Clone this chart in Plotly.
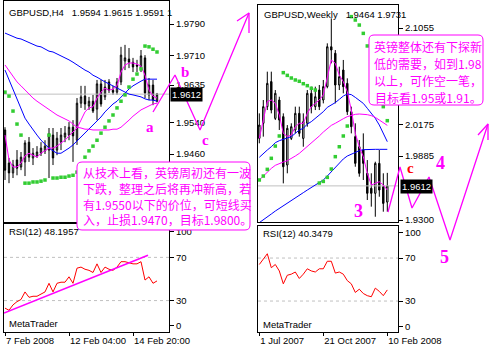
import plotly.graph_objects as go

# ---------------- GBPUSD H4 (left) ----------------
h4_index = list(range(39))
h4_open = [1.9521, 1.9437, 1.9412, 1.9445, 1.9427, 1.9440, 1.9490, 1.9450, 1.9455, 1.9462,
           1.9468, 1.9470, 1.9508, 1.9470, 1.9490, 1.9503, 1.9508, 1.9528, 1.9495, 1.9589,
           1.9607, 1.9582, 1.9594, 1.9574, 1.9638, 1.9605, 1.9643, 1.9622, 1.9617, 1.9643,
           1.9696, 1.9701, 1.9693, 1.9686, 1.9676, 1.9704, 1.9610, 1.9635, 1.9594]
h4_high = [1.9528, 1.9450, 1.9445, 1.9470, 1.9465, 1.9495, 1.9503, 1.9475, 1.9480, 1.9490,
           1.9495, 1.9526, 1.9526, 1.9516, 1.9526, 1.9531, 1.9541, 1.9546, 1.9602, 1.9633,
           1.9633, 1.9605, 1.9610, 1.9648, 1.9648, 1.9648, 1.9650, 1.9633, 1.9653, 1.9732,
           1.9737, 1.9729, 1.9704, 1.9699, 1.9724, 1.9711, 1.9653, 1.9648, 1.9615]
h4_low = [1.9394, 1.9386, 1.9399, 1.9406, 1.9419, 1.9404, 1.9440, 1.9432, 1.9450, 1.9455,
          1.9460, 1.9399, 1.9432, 1.9457, 1.9470, 1.9490, 1.9495, 1.9440, 1.9483, 1.9577,
          1.9572, 1.9572, 1.9564, 1.9546, 1.9580, 1.9597, 1.9615, 1.9610, 1.9610, 1.9635,
          1.9673, 1.9678, 1.9668, 1.9668, 1.9668, 1.9602, 1.9597, 1.9584, 1.9591]
h4_close = [1.9419, 1.9412, 1.9432, 1.9424, 1.9452, 1.9488, 1.9452, 1.9462, 1.9465, 1.9475,
            1.9480, 1.9511, 1.9450, 1.9500, 1.9508, 1.9513, 1.9528, 1.9506, 1.9589, 1.9605,
            1.9587, 1.9594, 1.9569, 1.9638, 1.9587, 1.9630, 1.9622, 1.9617, 1.9643, 1.9711,
            1.9704, 1.9693, 1.9681, 1.9683, 1.9709, 1.9615, 1.9635, 1.9597, 1.9612]
h4_ma_blue_slow = [1.9767, 1.9762, 1.9759, 1.9754, 1.9752, 1.9747, 1.9742, 1.9739, 1.9734, 1.9732,
                   1.9726, 1.9721, 1.9719, 1.9714, 1.9711, 1.9706, 1.9699, 1.9693, 1.9686, 1.9681,
                   1.9673, 1.9668, 1.9660, 1.9655, 1.9648, 1.9643, 1.9638, 1.9633, 1.9627, 1.9622,
                   1.9617, 1.9612, 1.9610, 1.9607, 1.9605, 1.9600, 1.9597, 1.9597, 1.9594]
h4_ma_blue_fast = [1.9673, 1.9648, 1.9622, 1.9597, 1.9572, 1.9551, 1.9536, 1.9521, 1.9508, 1.9495,
                   1.9485, 1.9475, 1.9468, 1.9462, 1.9462, 1.9468, 1.9475, 1.9483, 1.9493, 1.9503,
                   1.9513, 1.9523, 1.9533, 1.9544, 1.9554, 1.9567, 1.9577, 1.9587, 1.9594, 1.9605,
                   1.9615, 1.9625, 1.9633, 1.9640, 1.9645, 1.9650, 1.9650, 1.9650, 1.9650]
h4_ma_mag_slow = [1.9686, 1.9671, 1.9655, 1.9643, 1.9633, 1.9622, 1.9612, 1.9602, 1.9594, 1.9587,
                  1.9580, 1.9572, 1.9564, 1.9559, 1.9554, 1.9549, 1.9544, 1.9536, 1.9528, 1.9526,
                  1.9523, 1.9523, 1.9521, 1.9521, 1.9521, 1.9521, 1.9521, 1.9523, 1.9523, 1.9528,
                  1.9536, 1.9546, 1.9556, 1.9564, 1.9572, 1.9577, 1.9582, 1.9587, 1.9589]
h4_ma_mag_fast = [1.9508, 1.9445, 1.9427, 1.9427, 1.9437, 1.9455, 1.9462, 1.9457, 1.9452, 1.9462,
                  1.9468, 1.9475, 1.9475, 1.9480, 1.9488, 1.9495, 1.9506, 1.9516, 1.9526, 1.9546,
                  1.9567, 1.9577, 1.9580, 1.9602, 1.9617, 1.9627, 1.9622, 1.9625, 1.9633, 1.9668,
                  1.9686, 1.9691, 1.9691, 1.9688, 1.9683, 1.9660, 1.9622, 1.9607, 1.9602]
h4_sar = [1.9617, 1.9607, 1.9569, 1.9536, 1.9508, 1.9386, 1.9386, 1.9389, 1.9389, 1.9391,
          1.9394, 1.9508, 1.9399, 1.9399, 1.9401, 1.9401, 1.9404, 1.9406, 1.9414, 1.9435,
          1.9452, 1.9468, 1.9480, 1.9495, 1.9513, 1.9528, 1.9544, 1.9559, 1.9577, 1.9594,
          1.9610, 1.9630, 1.9650, 1.9663, 1.9676, 1.9734, 1.9732, 1.9726, 1.9719]
h4_rsi = [23, 21, 26, 29, 31, 38, 33, 34, 34, 36, 38, 46, 38, 46, 47, 47, 52, 46, 60, 61,
          59, 58, 56, 64, 56, 61, 59, 58, 61, 66, 66, 65, 64, 64, 66, 49, 52, 46, 48.1957]
h4_rsi_trend_x = [-0.25, 35.75]
h4_rsi_trend_y = [18.5, 72]
h4_date_ticks = [0, 16, 32]
h4_date_labels = ["7 Feb 2008", "12 Feb 04:00", "14 Feb 20:00"]
h4_price_ticks = [1.9790, 1.9710, 1.9635, 1.9540, 1.9460]
h4_last = 1.9612
h4_title = "GBPUSD,H4\u00a0\u00a0\u00a01.9594 1.9615 1.9591 1"

# ---------------- GBPUSD Weekly (right) ----------------
w_index = list(range(33))
w_open = [2.0046, 2.0184, 2.0336, 2.0565, 2.0229, 2.0397, 2.0245, 1.9803, 2.0046, 2.0123,
          2.0275, 2.0046, 2.0184, 2.0458, 2.0336, 2.0488, 2.0397, 2.0519, 2.0884, 2.0824,
          2.0534, 2.0671, 2.0549, 2.0290, 2.0062, 1.9970, 1.9940, 1.9727, 1.9590, 1.9544,
          1.9818, 1.9605, 1.9464]
w_high = [2.0275, 2.0397, 2.0656, 2.0656, 2.0488, 2.0427, 2.0275, 2.0168, 2.0184, 2.0336,
          2.0336, 2.0275, 2.0488, 2.0519, 2.0519, 2.0534, 2.0580, 2.0915, 2.1143, 2.0854,
          2.0702, 2.0763, 2.0595, 2.0336, 2.0184, 2.0031, 2.0092, 1.9848, 1.9727, 1.9833,
          1.9940, 1.9727, 1.9731]
w_low = [2.0001, 2.0062, 2.0305, 2.0275, 2.0214, 2.0123, 1.9635, 1.9727, 2.0031, 2.0092,
         2.0062, 1.9970, 2.0153, 2.0275, 2.0305, 2.0305, 2.0366, 2.0504, 2.0732, 2.0366,
         2.0488, 2.0458, 2.0260, 2.0092, 1.9787, 1.9696, 1.9666, 1.9483, 1.9422, 1.9330,
         1.9513, 1.9376, 1.9376]
w_close = [2.0168, 2.0336, 2.0549, 2.0305, 2.0458, 2.0214, 1.9787, 2.0138, 2.0153, 2.0275,
           2.0092, 2.0199, 2.0458, 2.0336, 2.0427, 2.0336, 2.0519, 2.0884, 2.0854, 2.0534,
           2.0610, 2.0519, 2.0290, 2.0153, 1.9818, 1.9727, 1.9818, 1.9544, 1.9544, 1.9818,
           1.9574, 1.9452, 1.9612]
w_ma_blue_slow = [1.9276, 1.9300, 1.9330, 1.9355, 1.9382, 1.9407, 1.9431, 1.9452, 1.9477, 1.9501,
                  1.9525, 1.9550, 1.9574, 1.9599, 1.9620, 1.9641, 1.9666, 1.9702, 1.9742, 1.9787,
                  1.9824, 1.9858, 1.9885, 1.9903, 1.9915, 1.9934, 1.9943, 1.9946, 1.9946, 1.9946,
                  1.9946, 1.9946, 1.9946]
w_ma_blue_fast = [1.9873, 1.9909, 1.9940, 1.9970, 2.0007, 2.0025, 2.0037, 2.0043, 2.0062, 2.0092,
                  2.0123, 2.0138, 2.0177, 2.0199, 2.0229, 2.0260, 2.0290, 2.0330, 2.0351, 2.0373,
                  2.0403, 2.0433, 2.0452, 2.0446, 2.0421, 2.0397, 2.0366, 2.0321, 2.0275, 2.0229,
                  2.0168, 2.0092, 2.0016]
w_ma_mag_slow = [1.9666, 1.9702, 1.9739, 1.9772, 1.9800, 1.9818, 1.9830, 1.9842, 1.9861, 1.9885,
                 1.9909, 1.9940, 1.9976, 2.0007, 2.0037, 2.0068, 2.0104, 2.0138, 2.0165, 2.0184,
                 2.0208, 2.0226, 2.0245, 2.0257, 2.0266, 2.0269, 2.0269, 2.0263, 2.0254, 2.0238,
                 2.0214, 2.0190, 2.0165]
w_ma_mag_fast = [2.0046, 2.0214, 2.0382, 2.0397, 2.0366, 2.0260, 2.0092, 2.0062, 2.0077, 2.0153,
                 2.0184, 2.0184, 2.0275, 2.0336, 2.0366, 2.0397, 2.0443, 2.0610, 2.0763, 2.0732,
                 2.0625, 2.0565, 2.0473, 2.0305, 2.0092, 1.9970, 1.9879, 1.9727, 1.9620, 1.9635,
                 1.9650, 1.9620, 1.9574]
w_sar = [1.9666, 1.9702, 1.9763, 1.9864, 1.9976, 2.0068, 2.0647, 2.0622, 2.0598, 2.0580,
         2.0568, 2.0546, 2.0528, 2.0504, 2.0488, 1.9638, 1.9653, 1.9690, 1.9766, 1.9879,
         1.9970, 2.0068, 2.0159, 2.1159, 2.1128, 2.1082, 2.1006, 2.0891, 2.0778, 2.0656,
         2.0488, 2.0336, 2.0208]
w_rsi = [64, 69, 74, 61, 64, 58, 46, 54, 55, 57, 51, 55, 60, 58, 57, 60, 60, 67, 67, 56,
         57, 55, 49, 46, 38, 41, 37, 35, 34, 42, 39, 35, 40.3479]
w_date_ticks = [0, 16, 32]
w_date_labels = ["1 Jul 2007", "21 Oct 2007", "10 Feb 2008"]
w_price_ticks = [2.1055, 2.0175, 1.9885, 1.9300]
w_last = 1.9612
w_title = "GBPUSD,Weekly\u00a0\u00a0\u00a01.9464 1.9731"

rsi_levels = [30, 70]
rsi_labels = ["0", "30", "70", "100"]

# ---------------- hand-drawn wave projections (page pixel space) ----------------
wave_left_x = [153, 175, 200, 249]
wave_left_y = [112, 75, 130, 13]
wave_left_head_x = [237, 249, 249]
wave_left_head_y = [21, 13, 33]
wave_right_x = [388, 400, 412, 429, 450, 488]
wave_right_y = [212, 167, 208, 177, 240, 124]
wave_right_head_x = [478, 488, 488]
wave_right_head_y = [135, 124, 140]
wave_labels = [("a", 150, 127, "#FF00FF", 15), ("b", 185, 72, "#FF00FF", 15),
               ("c", 205, 140, "#FF00FF", 15), ("3", 358, 211, "#FF00FF", 18),
               ("4", 440, 163, "#FF00FF", 18), ("5", 444, 257, "#FF00FF", 18),
               ("c", 410, 168, "#FF0000", 15)]

note_left_lines = ["从技术上看，英镑周初还有一波", "下跌，整理之后将再冲新高，若",
                   "有1.9550以下的价位，可短线买", "入，止损1.9470，目标1.9800。"]
note_left_box = [77, 162, 250, 230]
note_left_line_y = [172, 188, 204, 220]
note_right_lines = ["英镑整体还有下探新", "低的需要，如到1.98", "以上，可作空一笔，", "目标看1.95或1.91。"]
note_right_box = [369, 35, 483, 105]
note_right_line_y = [46, 63, 80, 97]

W, H = 494, 351
BLUE, MAG, GREEN, RED, GRAY = "#0000FF", "#FF00FF", "#32CD32", "#FF0000", "#C0C0C0"
FONT = "Liberation Sans"
CJK = "Noto Sans CJK SC"

fig = go.Figure()


def add_price_panel(xa, ya, idx, o, h, l, c, ma_bs, ma_bf, ma_ms, ma_mf, sar, last, xr):
    fig.add_trace(go.Scatter(x=xr, y=[last, last], mode="lines", line=dict(color=GRAY, width=1),
                             xaxis=xa, yaxis=ya, showlegend=False, hoverinfo="skip"))
    fig.add_trace(go.Candlestick(x=idx, open=o, high=h, low=l, close=c, xaxis=xa, yaxis=ya,
                                 whiskerwidth=0, showlegend=False,
                                 increasing=dict(line=dict(color="black", width=1), fillcolor="white"),
                                 decreasing=dict(line=dict(color="black", width=1), fillcolor="black")))
    for ys, col in [(ma_bs, BLUE), (ma_bf, BLUE), (ma_ms, MAG), (ma_mf, MAG)]:
        fig.add_trace(go.Scatter(x=idx, y=ys, mode="lines", line=dict(color=col, width=1),
                                 xaxis=xa, yaxis=ya, showlegend=False, hoverinfo="skip"))
    fig.add_trace(go.Scatter(x=idx, y=sar, mode="markers",
                             marker=dict(symbol="square", size=3.5, color=GREEN, line=dict(width=0)),
                             xaxis=xa, yaxis=ya, showlegend=False, hoverinfo="skip"))


def add_rsi_panel(xa, ya, idx, rsi, xr):
    for lv in rsi_levels:
        fig.add_trace(go.Scatter(x=xr, y=[lv, lv], mode="lines",
                                 line=dict(color=GRAY, width=1, dash="3px,3px"),
                                 xaxis=xa, yaxis=ya, showlegend=False, hoverinfo="skip"))
    fig.add_trace(go.Scatter(x=idx, y=rsi, mode="lines", line=dict(color=RED, width=1),
                             xaxis=xa, yaxis=ya, showlegend=False, hoverinfo="skip"))


h4_xr = [-0.25, 41.0]
w_xr = [-0.325, 34.675]

add_price_panel("x", "y", h4_index, h4_open, h4_high, h4_low, h4_close, h4_ma_blue_slow,
                h4_ma_blue_fast, h4_ma_mag_slow, h4_ma_mag_fast, h4_sar, h4_last, h4_xr)
add_rsi_panel("x2", "y2", h4_index, h4_rsi, h4_xr)
fig.add_trace(go.Scatter(x=h4_rsi_trend_x, y=h4_rsi_trend_y, mode="lines",
                         line=dict(color=MAG, width=1.6), xaxis="x2", yaxis="y2",
                         showlegend=False, hoverinfo="skip"))
add_price_panel("x3", "y3", w_index, w_open, w_high, w_low, w_close, w_ma_blue_slow,
                w_ma_blue_fast, w_ma_mag_slow, w_ma_mag_fast, w_sar, w_last, w_xr)
add_rsi_panel("x4", "y4", w_index, w_rsi, w_xr)

# wave drawings on an overlay axis covering the page
for wx, wy in [(wave_left_x, wave_left_y), (wave_left_head_x, wave_left_head_y),
               (wave_right_x, wave_right_y), (wave_right_head_x, wave_right_head_y)]:
    fig.add_trace(go.Scatter(x=wx, y=wy, mode="lines", line=dict(color=MAG, width=1.3),
                             xaxis="x5", yaxis="y5", showlegend=False, hoverinfo="skip"))

tickfont = dict(family=FONT, size=9.5, color="black")


def xax(dom, rng, anchor, ticks=None, labels=None):
    d = dict(domain=dom, range=rng, anchor=anchor, showline=True, linecolor="black", linewidth=1,
             mirror=True, showgrid=False, zeroline=False, fixedrange=True, automargin=False,
             rangeslider=dict(visible=False))
    if ticks is None:
        d.update(ticks="", showticklabels=False)
    else:
        d.update(tickmode="array", tickvals=ticks, ticktext=labels, ticks="outside", ticklen=3,
                 tickcolor="black", tickfont=tickfont, ticklabelposition="outside right",
                 tickangle=0, ticklabeloverflow="allow")
    return d


def yax(dom, rng, anchor, ticks, labels=None, fmt=".4f"):
    d = dict(domain=dom, range=rng, anchor=anchor, side="right", showline=True, linecolor="black",
             linewidth=1, mirror=True, showgrid=False, zeroline=False, fixedrange=True,
             automargin=False, tickmode="array", tickvals=ticks, ticks="outside", ticklen=4,
             tickcolor="black", tickfont=tickfont)
    if labels is not None:
        d["ticktext"] = labels
    else:
        d["tickformat"] = fmt
    return d


def px_x(a, b):
    return [a / W, b / W]


def px_y(top, bottom):
    return [1 - bottom / H, 1 - top / H]


fig.update_layout(
    width=W, height=H, margin=dict(l=0, r=0, t=0, b=0, pad=0, autoexpand=False), autosize=False,
    paper_bgcolor="white", plot_bgcolor="rgba(0,0,0,0)", showlegend=False, hovermode=False,
    boxgap=0.5,
    xaxis=xax(px_x(4, 169), h4_xr, "y"),
    yaxis=yax(px_y(1, 222), [1.92874, 1.98484], "x", h4_price_ticks),
    xaxis2=xax(px_x(4, 169), h4_xr, "y2", h4_date_ticks, h4_date_labels),
    yaxis2=yax(px_y(224, 332), [0.9, 100.9], "x2", [6.5, 30, 70, 93.5], rsi_labels),
    xaxis3=xax(px_x(258, 398), w_xr, "y3"),
    yaxis3=yax(px_y(5, 222), [1.92819, 2.12653], "x3", w_price_ticks),
    xaxis4=xax(px_x(258, 398), w_xr, "y4", w_date_ticks, w_date_labels),
    yaxis4=yax(px_y(226, 332), [1.2, 99.8], "x4", [6, 30, 70, 94], rsi_labels),
    xaxis5=dict(domain=[0, 1], range=[0, W], anchor="y5", visible=False, fixedrange=True,
                automargin=False),
    yaxis5=dict(domain=[0, 1], range=[H, 0], anchor="x5", visible=False, fixedrange=True,
                automargin=False),
)


def rounded(box, r=5):
    # rounded rectangle in paper coordinates, box given in page pixels
    x0, y0, x1, y1 = box

    def P(x, y):
        return f"{x / W:.5f},{1 - y / H:.5f}"
    return (f"M{P(x0 + r, y0)} L{P(x1 - r, y0)} Q{P(x1, y0)} {P(x1, y0 + r)} "
            f"L{P(x1, y1 - r)} Q{P(x1, y1)} {P(x1 - r, y1)} L{P(x0 + r, y1)} "
            f"Q{P(x0, y1)} {P(x0, y1 - r)} L{P(x0, y0 + r)} Q{P(x0, y0)} {P(x0 + r, y0)} Z")


shapes = []
for box in [note_left_box, note_right_box]:
    shapes.append(dict(type="path", path=rounded(box), xref="paper", yref="paper", layer="above",
                       fillcolor="white", line=dict(color=MAG, width=1)))
fig.update_layout(shapes=shapes)

ann = []


def text(t, x, y, size=9.5, color="black", family=FONT, xanchor="left", **kw):
    d = dict(text=t, x=x / W, y=1 - y / H, xref="paper", yref="paper", showarrow=False,
             xanchor=xanchor, yanchor="middle", font=dict(family=family, size=size, color=color))
    d.update(kw)
    ann.append(d)


text(h4_title, 7, 13)
text(w_title, 262, 14)
text("RSI(12) 48.1957", 7, 232)
text("MetaTrader", 7, 323)
text("RSI(12) 40.3479", 261, 233)
text("MetaTrader", 261, 324)
text(f"{h4_last:.4f}", 170, 94.5, color="white", bgcolor="black", borderpad=1)
text(f"{w_last:.4f}", 400, 187, color="white", bgcolor="black", borderpad=1)
for t, x, y, col, sz in wave_labels:
    text(f"<b>{t}</b>", x, y, size=sz, color=col, family="Liberation Serif", xanchor="center")
for line, y in zip(note_left_lines, note_left_line_y):
    text(line, 81, y, size=12, color=MAG, family=CJK)
for line, y in zip(note_right_lines, note_right_line_y):
    text(line, 428, y, size=12, color=MAG, family=CJK, xanchor="center")
fig.update_layout(annotations=ann)

fig.write_html("out.html")
